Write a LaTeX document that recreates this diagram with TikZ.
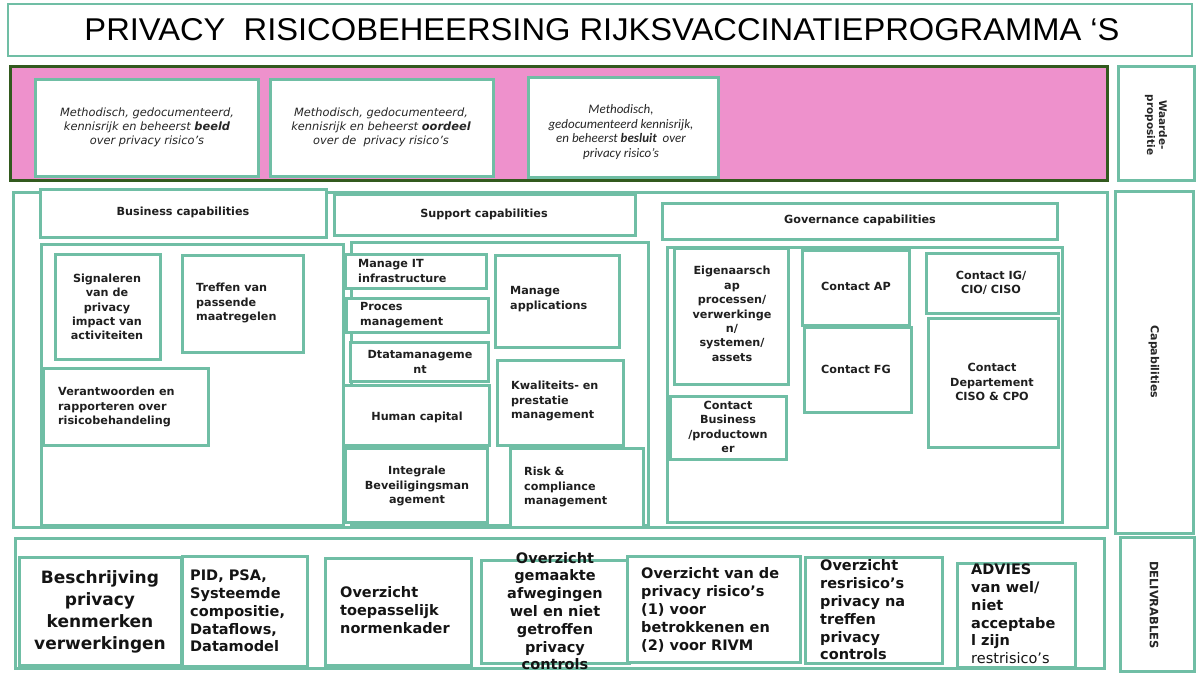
\documentclass[tikz,border=0pt]{standalone}
\usepackage{fontspec}
\setmainfont{DejaVu Sans}
\newfontfamily\carl{Carlito}
\newfontfamily\arialf{Liberation Sans}
\usetikzlibrary{fit}
\definecolor{tealb}{RGB}{112,190,165}
\definecolor{pinkb}{RGB}{238,145,204}
\definecolor{greenb}{RGB}{50,90,30}
\newcommand{\bx}[6][]{\node[box,#1,fit={(#3,#4) (#5,#6)}] (#2) {};}
\begin{document}
\begin{tikzpicture}[x=1pt,y=-1pt,
  box/.style={draw=tealb,fill=white,line width=3pt,inner sep=0pt},
  tb/.style={font=\bfseries\fontsize{11.2}{14.4}\selectfont,align=center,inner sep=0pt,text=black!88},
  tbl/.style={tb,align=left},
  it/.style={font=\itshape\fontsize{11.4}{14}\selectfont,align=center,inner sep=0pt,text=black!85},
  dl/.style={font=\bfseries\fontsize{14.5}{17.8}\selectfont,align=left,inner sep=0pt,text=black!92},
  dlc/.style={dl,align=center},
  rl/.style={font=\bfseries\fontsize{11}{12.5}\selectfont,align=center,inner sep=0pt,rotate=-90,text=black!85}]
\useasboundingbox (0,0) rectangle (1196,673);
\fill[white] (0,0) rectangle (1196,673);
% title
\bx[line width=2.4pt]{title}{8}{4}{1192}{56}
\node[inner sep=0pt] (ttl) at (602,30) {\resizebox{1035pt}{22pt}{\arialf\fontsize{30}{30}\selectfont PRIVACY\ \ RISICOBEHEERSING RIJKSVACCINATIEPROGRAMMA ‘S}};
% value proposition
\bx[draw=greenb,fill=pinkb]{pink}{10}{66}{1107}{180}
\bx{pk1}{35}{79}{258}{176}
\bx{pk2}{270}{79}{493}{176}
\bx{pk3}{528}{77}{718}{177}
\node[it] (tpk1) at (147,127) {Methodisch, gedocumenteerd,\\kennisrijk en beheerst \textbf{beeld}\\over privacy risico’s};
\node[it] (tpk2) at (381,127) {Methodisch, gedocumenteerd,\\kennisrijk en beheerst \textbf{oordeel}\\over de\ \ privacy risico’s};
\node[it,font=\carl\itshape\fontsize{13}{14.5}\selectfont] (tpk3) at (621,132) {Methodisch,\\gedocumenteerd kennisrijk,\\en beheerst \textbf{besluit}\ \ over\\privacy risico’s};
\bx{wlab}{1118}{66}{1194}{180}
\node[rl,font=\bfseries\fontsize{10.5}{12}\selectfont] (twlab) at (1156,125) {Waarde-\\propositie};
% capabilities
\bx{cap}{13}{192}{1107}{527}
\bx{clab}{1115}{191}{1193}{533}
\node[rl] (tclab) at (1154,362) {Capabilities};
\bx{bush}{40}{189}{326}{237}
\bx{bus}{41}{244}{343}{525}
\bx{suph}{334}{194}{635}{235}
\bx{sup}{351}{242}{648}{525}
\bx{govh}{662}{203}{1057}{239}
\bx{gov}{667}{247}{1062}{522}
\node[tb] (tbush) at (183,212) {Business capabilities};
\node[tb] (tsuph) at (484,214) {Support capabilities};
\node[tb] (tgovh) at (860,220) {Governance capabilities};
% business
\bx{sig}{55}{254}{160}{359}
\bx{tref}{182}{255}{303}{352}
\bx{ver}{43}{368}{208}{445}
\node[tb] (tsig) at (107,307) {Signaleren\\van de\\privacy\\impact van\\activiteiten};
\node[tbl,anchor=west] (ttref) at (196,303) {Treffen van\\passende\\maatregelen};
\node[tbl,anchor=west] (tver) at (58,407) {Verantwoorden en\\rapporteren over\\risicobehandeling};
% support
\bx{mit}{345}{254}{486}{288}
\bx{proc}{346}{298}{488}{332}
\bx{dta}{350}{342}{488}{381}
\bx{hum}{343}{385}{489}{445}
\bx{int}{345}{448}{487}{522}
\bx{mapp}{495}{255}{619}{347}
\bx{kwa}{497}{360}{623}{445}
\bx{risk}{510}{448}{643}{527}
\node[tbl,anchor=west] (tmit) at (358,271) {Manage IT\\infrastructure};
\node[tbl,anchor=west] (tproc) at (360,315) {Proces\\management};
\node[tb] (tdta) at (420,362) {Dtatamanageme\\nt};
\node[tb] (thum) at (417,417) {Human capital};
\node[tb] (tint) at (417,486) {Integrale\\Beveiligingsman\\agement};
\node[tbl,anchor=west] (tmapp) at (510,299) {Manage\\applications};
\node[tbl,anchor=west] (tkwa) at (511,401) {Kwaliteits- en\\prestatie\\management};
\node[tbl,anchor=west] (trisk) at (524,487) {Risk \&\\compliance\\management};
% governance
\bx{eig}{674}{248}{788}{384}
\bx{cap_ap}{802}{250}{909}{325}
\bx{cfg}{804}{327}{911}{412}
\bx{cig}{926}{253}{1058}{313}
\bx{cdep}{928}{318}{1058}{447}
\bx{cbus}{670}{396}{786}{459}
\node[tb] (teig) at (732,314) {Eigenaarsch\\ap\\processen/\\verwerkinge\\n/\\systemen/\\assets};
\node[tb] (tcap) at (856,286) {Contact AP};
\node[tb] (tcfg) at (856,369) {Contact FG};
\node[tb] (tcig) at (991,283) {Contact IG/\\CIO/ CISO};
\node[tb] (tcdep) at (992,382) {Contact\\Departement\\CISO \& CPO};
\node[tb] (tcbus) at (728,427) {Contact\\Business\\/productown\\er};
% deliverables
\bx{delo}{15}{538}{1104}{668}
\bx{dlab}{1120}{537}{1194}{671}
\node[rl,font=\bfseries\fontsize{11.5}{13}\selectfont] (tdlab) at (1154,605) {DELIVRABLES};
\bx{besch}{19}{557}{181}{665}
\bx{pid}{182}{556}{307}{666}
\bx{ovt}{325}{558}{471}{665}
\bx{ovg}{481}{560}{629}{663}
\bx{ovr}{627}{556}{800}{662}
\bx{ovres}{805}{557}{942}{663}
\bx{adv}{957}{563}{1075}{667}
\node[dlc,font=\bfseries\fontsize{17}{21.8}\selectfont] (tbesch) at (100,612) {Beschrijving\\privacy\\kenmerken\\verwerkingen};
\node[dl,anchor=west] (tpid) at (190,611) {PID, PSA,\\Systeemde\\compositie,\\Dataflows,\\Datamodel};
\node[dl,anchor=west] (tovt) at (340,610) {Overzicht\\toepasselijk\\normenkader};
\node[dlc] (tovg) at (555,611) {Overzicht\\gemaakte\\afwegingen\\wel en niet\\getroffen\\privacy\\controls};
\node[dl,anchor=west] (tovr) at (641,610) {Overzicht van de\\privacy risico’s\\(1) voor\\betrokkenen en\\(2) voor RIVM};
\node[dl,anchor=west] (tovres) at (820,610) {Overzicht\\resrisico’s\\privacy na\\treffen\\privacy\\controls};
\node[dl,anchor=west] (tadv) at (971,614) {ADVIES\\van wel/\\niet\\acceptabe\\l zijn\\{\mdseries restrisico’s}};
\end{tikzpicture}
\end{document}
